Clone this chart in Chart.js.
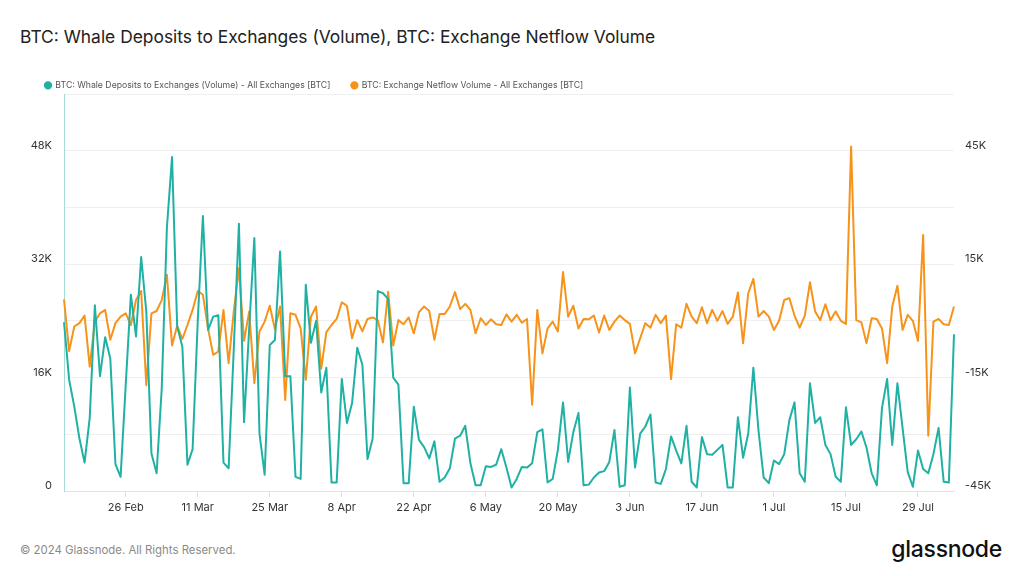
<!DOCTYPE html>
<html lang="en">
<head>
  <meta charset="UTF-8">
  <title>BTC: Whale Deposits to Exchanges (Volume), BTC: Exchange Netflow Volume</title>
  <script src="https://cdn.jsdelivr.net/npm/chart.js"></script>
  <style>
    body {
      margin: 0;
      width: 1024px;
      height: 576px;
      background: #fff;
      font-family: Inter, sans-serif;
      position: relative;
      overflow: hidden;
    }
    h1 {
      position: absolute;
      left: 20px;
      top: 25px;
      margin: 0;
      font-size: 17.4px;
      line-height: 24px;
      font-weight: 400;
      color: #222;
    }
    .chart-box {
      position: absolute;
      left: 0;
      top: 50px;
      width: 1024px;
      height: 470px;
    }
    .copy {
      position: absolute;
      left: 20px;
      top: 542px;
      font-size: 11.4px;
      line-height: 16px;
      color: #8a8a8a;
    }
    .logo {
      position: absolute;
      right: 22px;
      top: 534px;
      font-size: 23px;
      line-height: 30px;
      font-weight: 500;
      color: #111;
      letter-spacing: -0.3px;
    }
  </style>
</head>
<body>

  <h1>BTC: Whale Deposits to Exchanges (Volume), BTC: Exchange Netflow Volume</h1>

  <div class="chart-box">
    <canvas id="whaleChart"></canvas>
  </div>

  <div class="copy">© 2024 Glassnode. All Rights Reserved.</div>
  <div class="logo">glassnode</div>

  <script>
    // daily values from 14 Feb 2024 to 5 Aug 2024, in thousands of BTC
    const startDate = '2024-02-14';
    const xTickLabels = ['26 Feb', '11 Mar', '25 Mar', '8 Apr', '22 Apr', '6 May',
      '20 May', '3 Jun', '17 Jun', '1 Jul', '15 Jul', '29 Jul'];

    const whaleDepositsK = [
      23.8, 15.7, 11.9, 7.4, 4.0, 10.3, 26.2, 16.2, 21.7, 18.7,
      3.8, 2.0, 15.0, 27.7, 21.8, 33.0, 25.3, 5.3, 2.5, 14.5,
      37.1, 47.1, 23.2, 20.4, 3.7, 5.9, 24.0, 38.8, 22.7, 24.6,
      24.8, 4.0, 3.2, 20.0, 37.7, 9.7, 23.0, 35.7, 8.1, 2.3,
      20.6, 21.3, 33.8, 16.2, 16.2, 2.0, 1.7, 29.1, 20.9, 24.0,
      13.9, 17.4, 1.2, 1.2, 15.8, 9.6, 12.4, 20.2, 17.8, 4.5,
      7.4, 28.2, 27.9, 27.1, 16.0, 15.0, 1.1, 1.1, 11.9, 7.2,
      6.2, 4.6, 7.0, 1.3, 1.9, 3.2, 7.4, 7.8, 9.2, 3.9,
      0.8, 0.8, 3.5, 3.4, 3.7, 5.9, 3.3, 0.5, 1.7, 3.4,
      3.3, 3.9, 8.3, 8.7, 1.2, 1.7, 5.8, 12.5, 4.1, 8.3,
      11.0, 0.8, 0.9, 1.9, 2.6, 2.8, 4.1, 8.6, 0.6, 0.8,
      14.6, 3.3, 8.1, 9.1, 10.8, 1.2, 1.0, 3.1, 7.7, 5.7,
      3.9, 9.2, 1.3, 0.5, 7.6, 5.2, 5.1, 5.8, 6.5, 0.5,
      0.5, 10.4, 4.7, 8.1, 17.4, 8.5, 1.9, 1.1, 4.3, 3.8,
      5.2, 10.0, 12.5, 2.5, 1.3, 15.2, 9.6, 10.4, 6.5, 5.2,
      2.0, 1.3, 11.8, 6.5, 7.3, 8.4, 6.1, 2.5, 0.8, 11.7,
      15.8, 6.5, 15.2, 8.9, 2.7, 0.6, 5.7, 3.1, 2.5, 5.2,
      8.9, 1.3, 1.2, 22.1
    ];

    const netflowK = [
      5.7, -8.0, -1.5, -0.6, 1.4, -12.1, -0.2, 2.0, 2.9, -5.0,
      -0.6, 1.1, 2.0, -1.1, 5.5, 7.9, -17.0, 2.0, 2.6, 5.5,
      12.2, -6.5, -1.3, -4.8, -1.1, 2.9, 7.9, 6.9, -2.0, -9.0,
      -8.1, 2.9, -11.2, 2.5, 13.9, -5.3, 2.5, -16.5, -2.8, -0.2,
      4.0, -2.2, 3.8, -20.9, 2.0, 1.6, -2.0, -15.6, 1.1, 3.8,
      -12.7, -3.0, -1.1, 0.5, 4.9, 4.0, -4.6, 0.2, -2.8, 0.5,
      0.9, 0.2, -5.7, 7.7, -6.5, 0.2, -0.9, 0.9, -3.3, 2.3,
      3.8, 2.6, -5.0, 1.8, 1.8, 3.8, 7.6, 3.1, 4.5, 2.9,
      -3.3, 0.7, -1.1, 0.4, -0.9, -1.1, 1.7, -0.2, 1.6, -0.5,
      0.5, -22.2, 2.9, -8.6, -2.0, -0.2, -2.8, 12.9, 1.1, 4.0,
      -2.0, 0.5, 0.4, 1.4, -3.1, 1.4, -2.4, -0.2, 1.4, 0.2,
      -0.8, -8.6, -4.6, -0.6, -1.8, 1.6, -0.6, 1.4, -15.4, -0.9,
      -1.8, 4.5, 1.1, -0.6, 3.6, -0.6, 2.9, 0.0, 2.6, -0.8,
      1.1, 7.5, -5.9, 7.3, 11.1, 1.1, 2.6, 1.1, -2.4, 0.0,
      5.5, 6.0, 1.4, -1.8, 1.4, 10.2, 2.5, 0.2, 4.4, 0.2,
      2.5, 0.0, -0.8, 46.1, 0.2, -0.4, -5.9, 0.7, 0.5, -2.0,
      -11.2, 3.8, 9.3, -2.4, 1.6, 0.0, -5.3, 22.7, -30.4, -0.2,
      0.5, -0.9, -1.1, 3.8
    ];

    const teal = '#1fb1a4';
    const orange = '#f7931a';

    // one label per day, "26 Feb" style
    const months = ['Jan', 'Feb', 'Mar', 'Apr', 'May', 'Jun', 'Jul', 'Aug', 'Sep', 'Oct', 'Nov', 'Dec'];
    const dayLabels = [];
    const d0 = new Date(startDate + 'T00:00:00Z');
    for (let i = 0; i < whaleDepositsK.length; i++) {
      const d = new Date(d0.getTime() + i * 86400000);
      dayLabels.push(d.getUTCDate() + ' ' + months[d.getUTCMonth()]);
    }

    const axisFont = { family: 'Inter', size: 11 };

    new Chart(document.getElementById('whaleChart'), {
      type: 'line',
      data: {
        labels: dayLabels,
        datasets: [{
          label: 'BTC: Whale Deposits to Exchanges (Volume) - All Exchanges [BTC]',
          data: whaleDepositsK,
          yAxisID: 'y',
          borderColor: teal,
          backgroundColor: teal,
          pointBackgroundColor: teal,
          pointBorderColor: teal,
          borderWidth: 2,
          borderJoinStyle: 'round',
          pointRadius: 0,
          tension: 0
        }, {
          label: 'BTC: Exchange Netflow Volume - All Exchanges [BTC]',
          data: netflowK,
          yAxisID: 'y1',
          borderColor: orange,
          backgroundColor: orange,
          pointBackgroundColor: orange,
          pointBorderColor: orange,
          borderWidth: 2,
          borderJoinStyle: 'round',
          pointRadius: 0,
          tension: 0
        }]
      },
      options: {
        responsive: true,
        maintainAspectRatio: false,
        animation: false,
        layout: { padding: { left: 24, top: 10, right: 0, bottom: 0 } },
        plugins: {
          title: { display: false },
          tooltip: { enabled: false },
          legend: {
            position: 'top',
            align: 'start',
            maxHeight: 34,
            labels: {
              usePointStyle: true,
              pointStyle: 'circle',
              boxWidth: 6,
              boxHeight: 4.5,
              padding: 21,
              color: '#555',
              font: { family: 'Inter', size: 8.7 }
            }
          }
        },
        scales: {
          x: {
            afterFit: (s) => { s.height = 29; },
            grid: {
              drawOnChartArea: false,
              drawTicks: true,
              tickLength: 6,
              color: (ctx) => xTickLabels.includes(dayLabels[ctx.index]) ? '#e2e2e2' : 'rgba(0,0,0,0)'
            },
            border: { color: '#dde3e6' },
            ticks: {
              autoSkip: false,
              maxRotation: 0,
              minRotation: 0,
              padding: 4,
              color: '#333',
              font: axisFont,
              callback: function (value) {
                const lab = this.getLabelForValue(value);
                return xTickLabels.includes(lab) ? lab : '';
              }
            }
          },
          y: {
            position: 'left',
            min: 0,
            max: 56,
            afterFit: (s) => { s.width = 40; },
            grid: { color: '#efefef', drawTicks: false },
            border: { color: '#a3dcd7' },
            ticks: {
              stepSize: 8,
              padding: 12,
              labelOffset: -5,
              color: '#333',
              font: axisFont,
              callback: (v) => v % 16 === 0 ? (v === 0 ? '0' : v + 'K') : ''
            }
          },
          y1: {
            position: 'right',
            min: -45,
            max: 60,
            afterFit: (s) => { s.width = 70; },
            grid: { drawOnChartArea: false, drawTicks: false },
            border: { display: false },
            ticks: {
              stepSize: 15,
              padding: 11,
              labelOffset: -5,
              color: '#333',
              font: axisFont,
              callback: (v) => (v + 45) % 30 === 0 ? v + 'K' : ''
            }
          }
        }
      }
    });
  </script>

</body>
</html>
